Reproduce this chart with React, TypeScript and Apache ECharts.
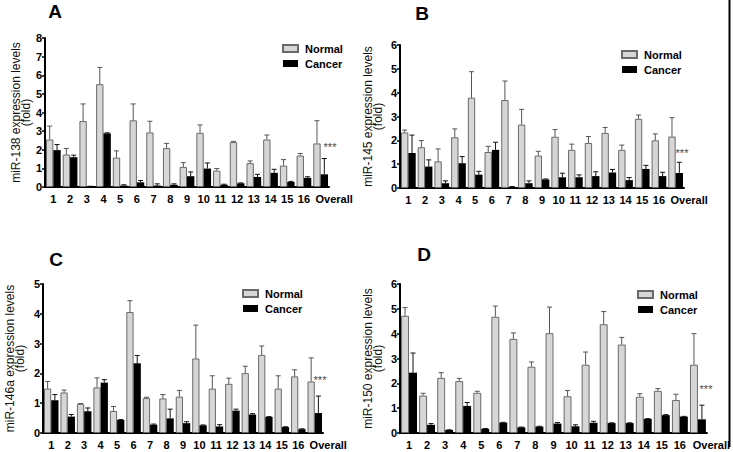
import React, { useEffect, useRef } from "react";
import * as echarts from "echarts";

const categories = ["1", "2", "3", "4", "5", "6", "7", "8", "9", "10", "11", "12", "13", "14", "15", "16", "Overall"];

const aNormal = [2.55, 1.74, 3.54, 5.52, 1.58, 3.58, 2.93, 2.09, 1.08, 2.91, 0.88, 2.41, 1.28, 2.55, 1.15, 1.69, 2.34];
const aNormalErr = [3.27, 2.07, 4.46, 6.42, 1.94, 4.46, 3.53, 2.34, 1.31, 3.33, 0.99, 2.45, 1.4, 2.79, 1.47, 1.8, 3.56];
const aCancer = [1.98, 1.6, 0.03, 2.88, 0.08, 0.25, 0.08, 0.12, 0.58, 0.99, 0.12, 0.2, 0.54, 0.76, 0.27, 0.49, 0.68];
const aCancerErr = [2.28, 1.71, 0.04, 2.91, 0.12, 0.35, 0.17, 0.17, 0.81, 1.29, 0.15, 0.22, 0.68, 0.95, 0.3, 0.55, 1.53];

const bNormal = [2.33, 1.71, 1.12, 2.13, 3.79, 1.51, 3.69, 2.66, 1.36, 2.15, 1.6, 1.89, 2.31, 1.6, 2.9, 2.0, 2.16];
const bNormalErr = [2.43, 1.99, 1.64, 2.48, 4.88, 1.75, 4.49, 3.3, 1.54, 2.45, 1.84, 2.16, 2.54, 1.8, 3.06, 2.27, 2.95];
const bCancer = [1.47, 0.9, 0.2, 1.04, 0.56, 1.6, 0.05, 0.2, 0.36, 0.45, 0.45, 0.5, 0.65, 0.33, 0.8, 0.5, 0.63];
const bCancerErr = [2.22, 1.18, 0.3, 1.32, 0.7, 1.92, 0.06, 0.3, 0.38, 0.62, 0.55, 0.68, 0.78, 0.44, 0.95, 0.66, 1.08];

const cNormal = [1.49, 1.36, 0.98, 1.53, 0.74, 4.06, 1.17, 1.16, 1.22, 2.5, 1.49, 1.65, 2.01, 2.62, 1.49, 1.9, 1.73];
const cNormalErr = [1.73, 1.44, 0.99, 1.85, 0.89, 4.44, 1.2, 1.29, 1.43, 3.62, 1.92, 1.84, 2.24, 2.92, 1.92, 2.12, 2.52];
const cCancer = [1.1, 0.55, 0.73, 1.69, 0.44, 2.34, 0.28, 0.49, 0.33, 0.26, 0.22, 0.75, 0.62, 0.54, 0.2, 0.13, 0.67];
const cCancerErr = [1.29, 0.62, 0.84, 1.79, 0.45, 2.6, 0.3, 0.8, 0.38, 0.27, 0.28, 0.8, 0.65, 0.55, 0.21, 0.14, 1.24];

const dNormal = [4.72, 1.51, 2.22, 2.09, 1.62, 4.68, 3.79, 2.67, 4.02, 1.48, 2.75, 4.38, 3.56, 1.46, 1.7, 1.33, 2.75];
const dNormalErr = [5.05, 1.6, 2.43, 2.2, 1.68, 5.11, 4.03, 2.86, 5.07, 1.71, 3.26, 4.89, 3.85, 1.58, 1.79, 1.56, 4.0];
const dCancer = [2.43, 0.33, 0.12, 1.09, 0.17, 0.42, 0.23, 0.26, 0.38, 0.27, 0.41, 0.4, 0.4, 0.57, 0.72, 0.66, 0.55];
const dCancerErr = [3.22, 0.38, 0.13, 1.23, 0.18, 0.43, 0.24, 0.27, 0.42, 0.33, 0.47, 0.41, 0.41, 0.58, 0.74, 0.67, 1.12];

const panelLetters = ["A", "B", "C", "D"];
const yTitles = [
  "miR-138 expression levels\n(fold)",
  "miR-145 expression levels\n(fold)",
  "miR-146a expression levels\n(fold)",
  "miR-150 expression levels\n(fold)",
];
const yMax = [8, 6, 5, 6];
const seriesNames = ["Normal", "Cancer"];
const signif = "***";

const FONT = "'Liberation Sans', Arial, Helvetica, sans-serif";
const CAT_GAP = 0.12;

const panels = [
  { normal: aNormal, normalErr: aNormalErr, cancer: aCancer, cancerErr: aCancerErr },
  { normal: bNormal, normalErr: bNormalErr, cancer: bCancer, cancerErr: bCancerErr },
  { normal: cNormal, normalErr: cNormalErr, cancer: cCancer, cancerErr: cCancerErr },
  { normal: dNormal, normalErr: dNormalErr, cancer: dCancer, cancerErr: dCancerErr },
];

const layout = [
  { grid: { left: 45, top: 38, width: 284, height: 149 }, nameGap: 14, legend: { left: 282, top: 43 }, letter: [55, 11], star: [330, 147] },
  { grid: { left: 400, top: 45, width: 284, height: 143 }, nameGap: 17, legend: { left: 621, top: 49 }, letter: [422, 13], star: [682, 153] },
  { grid: { left: 43, top: 284, width: 280, height: 149 }, nameGap: 18, legend: { left: 242, top: 288 }, letter: [56, 259], star: [320, 380] },
  { grid: { left: 400, top: 284, width: 310, height: 149 }, nameGap: 17, legend: { left: 637, top: 289 }, letter: [424, 254], star: [706, 389] },
];

function errorRender(side: number, color: string) {
  return (params: any, api: any) => {
    const x = api.value(0);
    const v = api.value(1);
    const e = api.value(2);
    const w = api.size([1, 0])[0];
    const bw = (w * (1 - CAT_GAP)) / 2;
    const p0 = api.coord([x, v]);
    const p1 = api.coord([x, e]);
    const cx = p0[0] + (side * bw) / 2;
    const style = { stroke: color, lineWidth: 1 };
    return {
      type: "group",
      children: [
        { type: "line", shape: { x1: cx, y1: p0[1], x2: cx, y2: p1[1] }, style },
        { type: "line", shape: { x1: cx - 2.5, y1: p1[1], x2: cx + 2.5, y2: p1[1] }, style },
      ],
    };
  };
}

export default function App() {
  const ref = useRef<HTMLDivElement>(null);
  useEffect(() => {
    if (!ref.current) return;
    const chart = echarts.init(ref.current, undefined, { renderer: "svg" });
    const grids: any[] = [];
    const xAxes: any[] = [];
    const yAxes: any[] = [];
    const series: any[] = [];
    const legends: any[] = [];
    const graphics: any[] = [];

    panels.forEach((p, i) => {
      const L = layout[i];
      grids.push({ ...L.grid, containLabel: false });
      xAxes.push({
        type: "category",
        gridIndex: i,
        data: categories,
        axisLine: { lineStyle: { color: "#000", width: 2 } },
        axisTick: { show: false },
        axisLabel: {
          color: "#000",
          fontWeight: "bold",
          fontSize: 11,
          fontFamily: FONT,
          margin: 6,
          interval: 0,
          formatter: (v: string) => (v === "Overall" ? "{o|" + v + "}" : v),
          rich: {
            o: { color: "#000", fontWeight: "bold", fontSize: 11, fontFamily: FONT, padding: [0, 0, 0, 27] },
          },
        },
      });
      yAxes.push({
        type: "value",
        gridIndex: i,
        min: 0,
        max: yMax[i],
        interval: 1,
        splitLine: { show: false },
        axisLine: { show: true, lineStyle: { color: "#000", width: 2 } },
        axisTick: { show: true, length: 3, lineStyle: { color: "#000", width: 1.5 } },
        axisLabel: { color: "#000", fontWeight: "bold", fontSize: 11, fontFamily: FONT, margin: 3 },
        name: yTitles[i],
        nameLocation: "middle",
        nameRotate: 90,
        nameGap: L.nameGap,
        nameTextStyle: { color: "#111", fontSize: 12, lineHeight: 10, fontFamily: FONT },
      });
      series.push({
        name: seriesNames[0],
        type: "bar",
        xAxisIndex: i,
        yAxisIndex: i,
        data: p.normal,
        barGap: "0%",
        barCategoryGap: CAT_GAP * 100 + "%",
        itemStyle: { color: "#d6d6d6", borderColor: "#6a6a6a", borderWidth: 1 },
        z: 2,
      });
      series.push({
        name: seriesNames[1],
        type: "bar",
        xAxisIndex: i,
        yAxisIndex: i,
        data: p.cancer,
        barGap: "0%",
        barCategoryGap: CAT_GAP * 100 + "%",
        itemStyle: { color: "#000" },
        z: 2,
      });
      series.push({
        name: "errN" + i,
        type: "custom",
        xAxisIndex: i,
        yAxisIndex: i,
        renderItem: errorRender(-1, "#555"),
        data: p.normal.map((v, k) => [k, v, p.normalErr[k]]),
        z: 3,
      });
      series.push({
        name: "errC" + i,
        type: "custom",
        xAxisIndex: i,
        yAxisIndex: i,
        renderItem: errorRender(1, "#111"),
        data: p.cancer.map((v, k) => [k, v, p.cancerErr[k]]),
        z: 3,
      });
      legends.push({
        data: seriesNames,
        orient: "vertical",
        left: L.legend.left,
        top: L.legend.top,
        icon: "rect",
        itemWidth: 15,
        itemHeight: 7,
        itemGap: 4,
        padding: 0,
        selectedMode: false,
        textStyle: { color: "#000", fontWeight: "bold", fontSize: 11, fontFamily: FONT, padding: [0, 0, 0, 2] },
      });
      graphics.push({
        type: "text",
        x: L.letter[0],
        y: L.letter[1],
        style: {
          text: panelLetters[i],
          fill: "#000",
          fontSize: 19,
          fontWeight: "bold",
          fontFamily: FONT,
          align: "center",
          verticalAlign: "middle",
        },
      });
      graphics.push({
        type: "text",
        x: L.star[0],
        y: L.star[1],
        style: {
          text: signif,
          fill: "#4a4a4a",
          fontSize: 11,
          fontFamily: FONT,
          align: "center",
          verticalAlign: "middle",
        },
      });
    });

    graphics.push({
      type: "line",
      shape: { x1: 729.5, y1: 0, x2: 729.5, y2: 447 },
      style: { stroke: "#000", lineWidth: 2 },
    });

    chart.setOption({
      animation: false,
      backgroundColor: "#fff",
      textStyle: { fontFamily: FONT },
      grid: grids,
      xAxis: xAxes,
      yAxis: yAxes,
      legend: legends,
      series,
      graphic: graphics,
    });
    return () => chart.dispose();
  }, []);
  return <div ref={ref} style={{ position: "absolute", left: 0, top: 0, width: 733, height: 452 }} />;
}
